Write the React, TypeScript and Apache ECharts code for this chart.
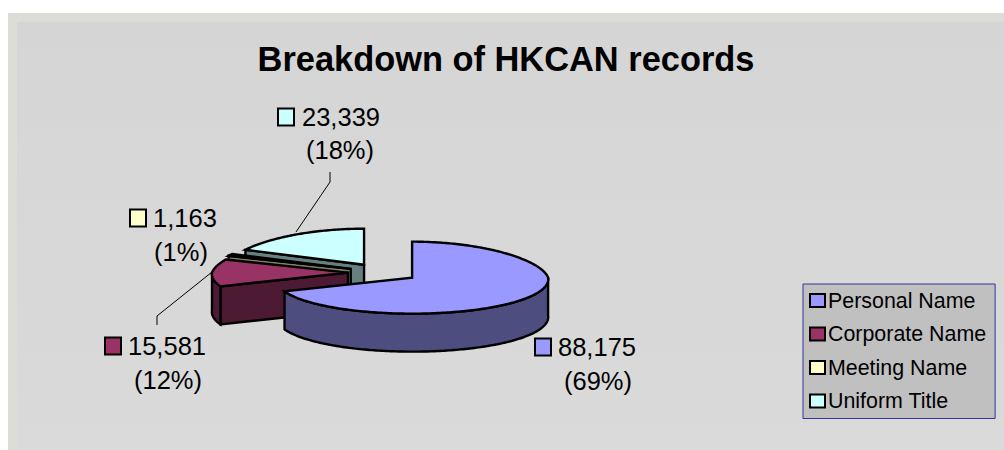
import React, { useEffect, useRef } from "react";
import * as echarts from "echarts";

const categories = ["Personal Name", "Corporate Name", "Meeting Name", "Uniform Title"];
const values = [88175, 15581, 1163, 23339];
const percentLabels = ["(69%)", "(12%)", "(1%)", "(18%)"];
const valueLabels = ["88,175", "15,581", "1,163", "23,339"];
const topColors = ["#9999FF", "#993366", "#FFFFCC", "#CCFFFF"];
const sideColors = ["#4D4D80", "#4D1A33", "#808066", "#668080"];

const FONT = '"Liberation Sans", Arial, sans-serif';
const CX = 383, CY = 272.5, RX = 136, RY = 36, DEPTH = 38, EXPLODE = 35;
const RAD = Math.PI / 180;
const total = values.reduce((a, b) => a + b, 0);

// data-label layout: swatch left/centre y, value text left, percent centre x/y
const labelLayout = [
  { sx: 534, sy: 347, tx: 558, px: 598, py: 381 },
  { sx: 104, sy: 346, tx: 128, px: 168, py: 380 },
  { sx: 129, sy: 218, tx: 153, px: 181, py: 252 },
  { sx: 277, sy: 117, tx: 302, px: 340, py: 150 },
];
const leaders: (number[][] | null)[] = [
  null,
  [[157, 325], [157, 316], [212, 272]],
  null,
  [[330, 172], [330, 182], [296, 232]],
];

function sliceAngles(i: number) {
  let start = 0;
  for (let k = 0; k < i; k++) start += (values[k] / total) * 360;
  return [start, start + (values[i] / total) * 360];
}

function renderSlice(i: number) {
  const [a0, a1] = sliceAngles(i);
  const mid = ((a0 + a1) / 2) * RAD;
  const ox = CX + EXPLODE * Math.sin(mid);
  const oy = CY - EXPLODE * Math.cos(mid) * (RY / RX);
  // far side of the pie is drawn slightly narrower, near side wider (perspective)
  const rim = (deg: number) => {
    const t = deg * RAD;
    const c = Math.cos(t);
    const scale = c > 0 ? 1 - 0.1 * c : 1 - 0.04 * c;
    return [ox + RX * Math.sin(t) * scale, oy - RY * c];
  };
  const sample = (from: number, to: number) => {
    const pts: number[][] = [];
    const n = Math.max(1, Math.ceil(Math.abs(to - from)));
    for (let k = 0; k <= n; k++) pts.push(rim(from + ((to - from) * k) / n));
    return pts;
  };
  const line = { stroke: "#000", lineWidth: 2.4, lineJoin: "miter" };
  const children: any[] = [];
  const wall = (deg: number) => {
    const p = rim(deg);
    children.push({
      type: "polygon",
      shape: { points: [[ox, oy], p, [p[0], p[1] + DEPTH], [ox, oy + DEPTH]] },
      style: { fill: sideColors[i], ...line },
    });
  };
  if (Math.sin(a0 * RAD) < -0.001) wall(a0);
  if (Math.sin(a1 * RAD) > 0.001) wall(a1);
  const f0 = Math.max(a0, 90), f1 = Math.min(a1, 270);
  if (f1 > f0) {
    const arc = sample(f0, f1);
    const lower = arc.map((p) => [p[0], p[1] + DEPTH]).reverse();
    children.push({
      type: "polygon",
      shape: { points: [...arc, ...lower] },
      style: { fill: sideColors[i], ...line },
    });
  }
  children.push({
    type: "polygon",
    shape: { points: [[ox, oy], ...sample(a0, a1)] },
    style: { fill: topColors[i], ...line },
  });
  const lead = leaders[i];
  if (lead) {
    children.push({
      type: "polyline",
      shape: { points: lead },
      style: { stroke: "#000", lineWidth: 1, fill: null },
    });
  }
  const L = labelLayout[i];
  children.push({
    type: "rect",
    shape: { x: L.sx + 1, y: L.sy - 8.5, width: 16, height: 17 },
    style: { fill: topColors[i], stroke: "#000", lineWidth: 2 },
  });
  const textStyle = { fill: "#000", font: `25.5px ${FONT}`, textVerticalAlign: "middle", verticalAlign: "middle" };
  children.push({
    type: "text",
    x: L.tx,
    y: L.sy,
    style: { ...textStyle, text: valueLabels[i], align: "left", textAlign: "left" },
  });
  children.push({
    type: "text",
    x: L.px,
    y: L.py,
    style: { ...textStyle, text: percentLabels[i], align: "center", textAlign: "center" },
  });
  return { type: "group", children };
}

export default function App() {
  const ref = useRef<HTMLDivElement>(null);
  useEffect(() => {
    if (!ref.current) return;
    document.body.style.margin = "0";
    const chart = echarts.init(ref.current, null, { renderer: "svg" });
    const order = [3, 2, 1, 0];
    chart.setOption({
      animation: false,
      backgroundColor: "#FFFFFF",
      title: {
        text: "Breakdown of HKCAN records",
        left: 501,
        top: 37,
        textAlign: "center",
        textStyle: { fontFamily: FONT, fontWeight: "bold", fontSize: 34.4, color: "#000" },
      },
      graphic: [
        {
          type: "rect",
          z: -10,
          silent: true,
          shape: { x: 8, y: 13, width: 996, height: 437 },
          style: { fill: "#DDDDD8" },
        },
        {
          type: "rect",
          z: -9,
          silent: true,
          shape: { x: 17, y: 22, width: 987, height: 428 },
          style: {
            fill: {
              type: "linear", x: 0, y: 0, x2: 0, y2: 1,
              colorStops: [{ offset: 0, color: "#D5D5D5" }, { offset: 1, color: "#DADADA" }],
            },
          },
        },
      ],
      legend: {
        orient: "vertical",
        left: 803,
        top: 284,
        padding: [6, 9, 7, 6],
        itemGap: 12.5,
        itemWidth: 15,
        itemHeight: 13,
        backgroundColor: "#C0C0C0",
        borderColor: "#333399",
        borderWidth: 1,
        borderRadius: 0,
        selectedMode: false,
        textStyle: { fontFamily: FONT, fontSize: 21.4, color: "#000", padding: [0, 0, 0, -2] },
        data: categories.map((name, i) => ({
          name,
          icon: "rect",
          itemStyle: { color: topColors[i], borderColor: "#000", borderWidth: 2 },
        })),
      },
      series: order.map((i) => ({
        type: "custom",
        name: categories[i],
        coordinateSystem: "none",
        silent: true,
        itemStyle: { color: topColors[i] },
        data: [values[i]],
        renderItem: () => renderSlice(i),
      })),
    });
    return () => chart.dispose();
  }, []);
  return <div ref={ref} style={{ position: "absolute", left: 0, top: 0, width: 1004, height: 450 }} />;
}
